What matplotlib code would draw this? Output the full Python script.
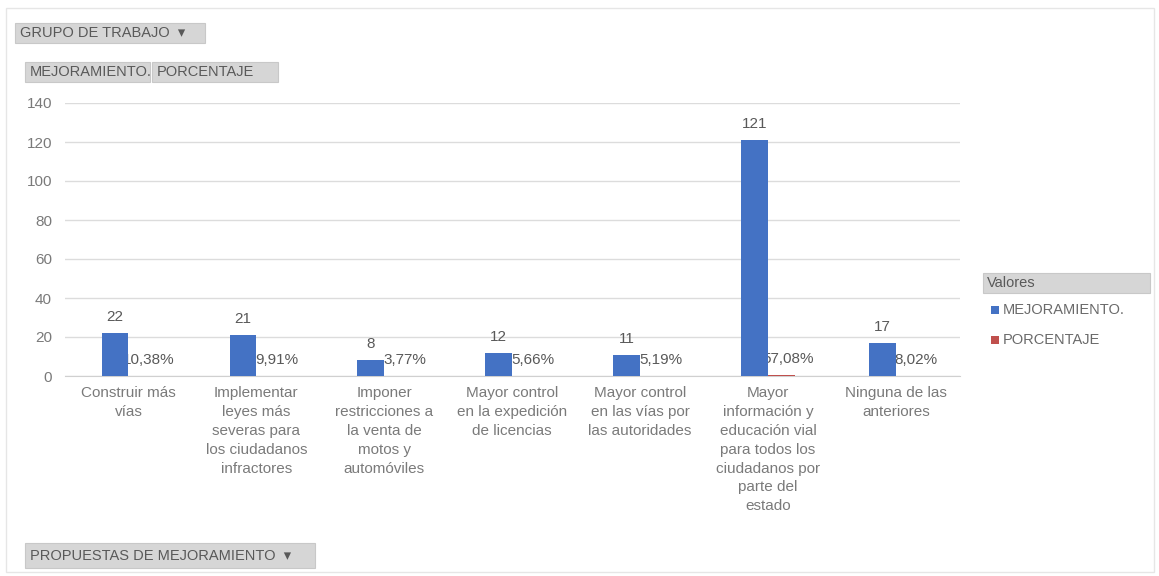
import numpy as np
import matplotlib.pyplot as plt
from matplotlib.patches import Rectangle

# datos de la tabla dinamica
categorias = [
    "Construir más\nvías",
    "Implementar\nleyes más\nseveras para\nlos ciudadanos\ninfractores",
    "Imponer\nrestricciones a\nla venta de\nmotos y\nautomóviles",
    "Mayor control\nen la expedición\nde licencias",
    "Mayor control\nen las vías por\nlas autoridades",
    "Mayor\ninformación y\neducación vial\npara todos los\nciudadanos por\nparte del\nestado",
    "Ninguna de las\nanteriores",
]
mejoramiento = [22, 21, 8, 12, 11, 121, 17]
porcentaje = [0.1038, 0.0991, 0.0377, 0.0566, 0.0519, 0.5708, 0.0802]
y_ticks = [0, 20, 40, 60, 80, 100, 120, 140]
series = ["MEJORAMIENTO.", "PORCENTAJE"]

plt.rcParams['font.family'] = ['Liberation Sans', 'DejaVu Sans']

azul = '#4472C4'
rojo = '#C0504D'
gris_txt = '#7a7a7a'
gris_btn = '#d6d6d6'

W, H = 1159, 576


def fx(x):
    return x / W


def fy(y):
    return 1 - y / H


fig = plt.figure(figsize=(W / 100, H / 100), dpi=100)

# borde del area del grafico
fig.patches.append(Rectangle((fx(6), fy(572)), fx(1148), 564 / H, transform=fig.transFigure,
                             fill=False, ec='#e6e6e6', lw=1))

ax = fig.add_axes([fx(64.5), fy(376), fx(960 - 64.5), (376 - 103) / H])
x = np.arange(len(categorias))
w = 0.21

ax.bar(x - w / 2, mejoramiento, w, color=azul, zorder=3)
ax.bar(x + w / 2, porcentaje, w, color=rojo, zorder=3)

for xi, v in zip(x, mejoramiento):
    ax.annotate(str(v), (xi - w / 2, v), xytext=(0, 11.5), textcoords='offset points',
                ha='center', va='center', fontsize=11, color='#595959', zorder=4)

for xi, p in zip(x, porcentaje):
    lbl = f"{p * 100:.2f}%".replace('.', ',')
    ax.annotate(lbl, (xi + w / 2, p), xytext=(5, 11.5), textcoords='offset points',
                ha='center', va='center', fontsize=11, color='#595959', zorder=2.5)

ax.set_xlim(-0.5, len(categorias) - 0.5)
ax.set_ylim(0, 140)
ax.set_yticks(y_ticks)
ax.set_xticks(x)
ax.set_xticklabels(categorias, fontsize=11, color=gris_txt, linespacing=1.45)
ax.tick_params(axis='x', length=0, pad=7)
ax.tick_params(axis='y', length=0, pad=9, labelsize=11, labelcolor=gris_txt)
ax.yaxis.grid(True, color='#dcdcdc', lw=1)
ax.set_axisbelow(True)
for s in ['top', 'right', 'left']:
    ax.spines[s].set_visible(False)
ax.spines['bottom'].set_color('#d0d0d0')


# botones de la tabla dinamica
def boton(x0, y0, x1, y1, texto):
    fig.patches.append(Rectangle((fx(x0), fy(y1)), fx(x1 - x0), (y1 - y0) / H,
                                 transform=fig.transFigure, fc=gris_btn, ec='#c8c8c8', lw=0.8))
    fig.text(fx(x0 + 5), fy((y0 + y1) / 2), texto, fontsize=10.5, color='#595959',
             ha='left', va='center')


boton(15, 23, 205, 43, "GRUPO DE TRABAJO  ▾")
boton(25, 62, 150, 82, "MEJORAMIENTO.")
boton(152, 62, 278, 82, "PORCENTAJE")
boton(25, 543, 315, 568, "PROPUESTAS DE MEJORAMIENTO  ▾")

# leyenda
fig.patches.append(Rectangle((fx(983), fy(293)), fx(1150 - 983), 20 / H,
                             transform=fig.transFigure, fc=gris_btn, ec='#c8c8c8', lw=0.8))
fig.text(fx(987), fy(283), "Valores", fontsize=10.5, color='#595959', va='center')
for i, (nombre, col) in enumerate(zip(series, [azul, rojo])):
    yc = 310 + i * 30
    fig.patches.append(Rectangle((fx(991), fy(yc + 4)), fx(8), 8 / H,
                                 transform=fig.transFigure, fc=col, ec='none'))
    fig.text(fx(1003), fy(yc), nombre, fontsize=10.5, color='#6a6a6a', va='center')

fig.savefig('out.png', dpi=100)
